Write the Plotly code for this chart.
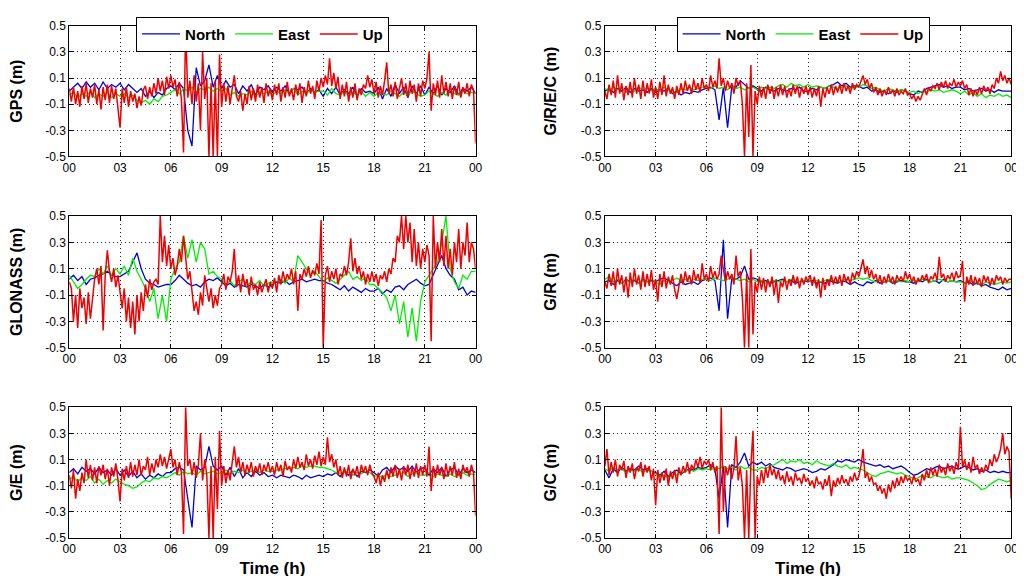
import numpy as np
import plotly.graph_objects as go
from plotly.subplots import make_subplots

# ---------------- data (hours 0..24, metres) ----------------
# North / East sampled every 0.25 h (97 values), Up every 0.125 h (193 values)
x_tick_vals = [0, 3, 6, 9, 12, 15, 18, 21, 24]
x_tick_text = ["00", "03", "06", "09", "12", "15", "18", "21", "00"]
y_tick_vals = [-0.5, -0.3, -0.1, 0.1, 0.3, 0.5]
y_tick_text = ["-0.5", "-0.3", "-0.1", "0.1", "0.3", "0.5"]
components = ["North", "East", "Up"]

# ---- GPS ----
gps_north = [0.00, 0.03, 0.06, 0.02, 0.07, 0.03, 0.06, 0.01, 0.07, 0.02, 0.05, 0.03,
             0.06, 0.01, 0.05, 0.02, -0.01, 0.02, -0.04, 0.00, -0.05, -0.01, -0.03, 0.02,
             0.04, 0.01, 0.06, 0.02, -0.30, -0.42, 0.18, 0.04, 0.08, 0.20, 0.03, 0.12,
             0.02, 0.08, 0.03, 0.05, -0.02, 0.04, 0.00, 0.05, -0.03, 0.03, 0.01, 0.04,
             -0.01, 0.03, 0.00, 0.04, -0.02, 0.02, 0.01, 0.03, -0.02, 0.02, -0.01, 0.01,
             -0.04, 0.02, -0.02, 0.03, -0.03, 0.01, -0.02, 0.03, -0.04, 0.02, -0.01, 0.00,
             -0.02, 0.03, -0.06, 0.02, -0.04, 0.05, -0.02, 0.03, -0.05, 0.04, -0.02, 0.04,
             -0.03, 0.03, -0.02, 0.04, -0.03, 0.02, -0.01, 0.04, -0.03, 0.02, 0.00, 0.03,
             -0.02]
gps_east = [-0.03, -0.01, -0.05, -0.02, -0.04, 0.00, -0.05, -0.02, -0.04, -0.01, -0.05, -0.02,
            -0.04, -0.02, -0.05, -0.03, -0.07, -0.09, -0.07, -0.10, -0.06, -0.08, -0.04, -0.03,
            -0.01, 0.01, -0.02, 0.02, 0.00, 0.03, -0.01, 0.02, 0.01, 0.03, 0.00, 0.02,
            0.00, 0.02, -0.03, -0.01, -0.04, -0.02, -0.03, 0.00, -0.04, -0.01, -0.02, 0.00,
            -0.03, 0.00, -0.02, 0.01, -0.02, 0.02, -0.03, 0.00, -0.02, 0.01, -0.01, 0.00,
            0.00, -0.03, 0.02, -0.02, -0.03, 0.00, -0.04, -0.01, -0.03, 0.00, -0.04, -0.01,
            -0.04, -0.01, -0.02, -0.03, 0.00, -0.02, -0.04, -0.01, -0.03, 0.00, -0.02, -0.04,
            -0.03, 0.00, -0.02, -0.04, -0.01, -0.03, 0.01, -0.02, -0.03, 0.00, -0.02, -0.01,
            -0.02]
gps_up = [0.02, -0.08, 0.03, -0.10, 0.00, -0.12, 0.04, -0.06, 0.06, -0.09, 0.02, -0.05,
          0.05, -0.10, 0.01, -0.14, 0.03, -0.07, 0.05, -0.09, 0.04, -0.06, 0.02, -0.11,
          -0.28, 0.02, -0.09, 0.03, -0.12, 0.00, -0.08, -0.02, -0.13, -0.04, -0.11, 0.01,
          0.04, -0.06, 0.03, -0.04, 0.06, -0.02, 0.10, 0.00, 0.08, -0.03, 0.11, 0.02,
          0.12, 0.03, 0.09, -0.04, 0.07, -0.06, -0.47, 0.50, -0.05, 0.08, -0.10, 0.12,
          -0.08, 0.06, -0.30, 0.30, -0.06, 0.10, -0.50, 0.06, -0.50, 0.08, -0.50, 0.28,
          -0.12, 0.06, -0.08, 0.04, -0.10, 0.02, 0.12, -0.04, -0.08, 0.00, -0.15, -0.02,
          -0.10, 0.04, -0.07, 0.02, -0.08, 0.05, -0.05, 0.03, -0.09, 0.06, -0.04, 0.02,
          -0.07, 0.05, -0.03, 0.06, -0.08, 0.03, -0.05, 0.07, -0.04, 0.02, -0.07, 0.05,
          -0.03, 0.06, -0.09, 0.03, -0.04, 0.08, -0.02, 0.04, -0.06, 0.08, 0.00, 0.10,
          0.03, 0.12, 0.05, 0.25, 0.04, 0.14, 0.02, 0.11, -0.06, 0.05, -0.04, 0.07,
          -0.08, 0.03, -0.05, 0.06, -0.07, 0.02, -0.03, 0.05, 0.02, 0.12, 0.03, 0.09,
          -0.02, 0.07, -0.05, 0.04, -0.03, 0.08, 0.22, -0.02, 0.05, -0.04, 0.07, -0.06,
          0.03, 0.10, -0.03, 0.06, -0.05, 0.08, -0.02, 0.05, -0.08, 0.06, -0.04, 0.08,
          0.02, 0.10, 0.30, -0.15, 0.06, -0.03, 0.08, -0.05, 0.12, -0.02, 0.07, -0.04,
          0.06, -0.06, 0.04, -0.03, 0.07, -0.05, 0.03, -0.02, 0.06, -0.04, 0.05, 0.01,
          -0.40]

# ---- GLONASS ----
glo_north = [0.02, 0.05, 0.01, 0.04, -0.02, 0.02, 0.03, 0.05, 0.06, 0.08, 0.05, 0.04,
             0.04, 0.06, 0.08, 0.15, 0.22, 0.10, 0.02, -0.01, -0.02, -0.04, -0.03, -0.02,
             -0.02, 0.01, 0.05, 0.02, -0.01, -0.03, -0.02, -0.04, 0.00, 0.02, 0.01, 0.03,
             0.00, -0.03, -0.01, -0.04, -0.02, -0.03, -0.04, -0.02, -0.03, -0.05, -0.02, -0.04,
             -0.02, 0.00, -0.01, 0.01, -0.02, 0.00, 0.01, 0.02, 0.00, 0.01, 0.02, 0.01,
             0.01, -0.01, -0.02, -0.04, -0.06, -0.03, -0.07, -0.04, -0.06, -0.08, -0.05, -0.07,
             -0.07, -0.05, -0.09, -0.06, -0.08, -0.04, -0.03, -0.06, -0.02, 0.00, 0.02, -0.01,
             -0.03, -0.02, 0.05, 0.12, 0.20, 0.10, 0.05, 0.02, -0.06, -0.04, -0.10, -0.07,
             -0.08]
glo_east = [0.05, 0.00, -0.05, -0.02, 0.02, 0.05, 0.04, 0.10, 0.06, 0.12, 0.05, 0.10,
            0.06, 0.12, 0.05, 0.18, 0.08, 0.02, -0.05, -0.15, -0.05, -0.28, -0.10, -0.30,
            0.02, 0.10, 0.15, 0.35, 0.18, 0.32, 0.15, 0.30, 0.25, 0.06, 0.08, 0.04,
            0.02, -0.02, 0.01, -0.03, 0.00, 0.02, -0.03, 0.00, -0.02, 0.01, -0.03, -0.01,
            0.00, -0.02, 0.02, -0.01, 0.03, 0.00, 0.20, 0.15, 0.10, 0.05, 0.08, 0.04,
            0.00, 0.03, 0.01, -0.01, 0.02, 0.05, 0.08, 0.02, 0.04, 0.01, 0.03, -0.02,
            -0.02, -0.05, -0.08, -0.12, -0.22, -0.10, -0.32, -0.15, -0.42, -0.20, -0.45, -0.15,
            0.00, 0.05, 0.10, 0.15, 0.30, 0.50, 0.10, 0.00, -0.05, 0.05, 0.02, 0.08,
            0.08]
glo_up = [0.00, -0.05, -0.30, -0.10, -0.35, -0.05, -0.20, -0.12, -0.32, -0.08, -0.28, -0.15,
          0.02, 0.10, -0.02, 0.12, -0.37, 0.05, 0.24, 0.08, 0.00, 0.10, -0.04, 0.05,
          -0.08, -0.20, -0.05, -0.30, -0.12, -0.35, -0.15, -0.40, -0.10, -0.30, -0.08, -0.22,
          -0.02, -0.12, 0.02, -0.06, 0.00, 0.02, -0.02, 0.50, 0.15, 0.35, 0.12, 0.28,
          0.10, 0.18, 0.05, 0.12, 0.25, 0.15, 0.35, 0.18, 0.02, 0.08, -0.10, -0.22,
          -0.15, -0.25, -0.08, -0.18, 0.05, -0.05, -0.15, -0.05, -0.20, -0.10, -0.18, -0.05,
          -0.02, 0.06, -0.06, 0.04, 0.00, 0.08, 0.25, -0.04, 0.05, -0.08, 0.06, -0.03,
          0.02, -0.10, 0.04, -0.06, -0.02, -0.10, 0.00, -0.08, -0.03, 0.02, -0.08, 0.00,
          -0.05, 0.03, -0.08, 0.05, -0.02, 0.08, 0.00, 0.06, 0.02, 0.10, -0.02, 0.08,
          -0.22, 0.06, 0.02, 0.10, 0.04, 0.12, 0.03, 0.09, 0.05, 0.14, 0.06, 0.47,
          -0.50, 0.05, 0.12, 0.00, 0.08, 0.02, 0.10, -0.02, 0.06, 0.04, 0.12, 0.05,
          0.15, 0.33, 0.08, 0.18, 0.06, 0.12, 0.02, 0.08, -0.02, 0.06, 0.00, 0.08,
          0.00, 0.06, -0.03, 0.05, 0.02, 0.08, 0.00, 0.10, 0.06, 0.18, 0.15, 0.35,
          0.30, 0.50, 0.25, 0.50, 0.30, 0.45, 0.15, 0.40, 0.12, 0.30, 0.10, 0.25,
          0.15, 0.28, 0.20, -0.45, 0.50, 0.10, 0.30, 0.15, 0.40, 0.12, 0.35, 0.10,
          0.25, 0.05, 0.30, 0.15, 0.40, 0.10, 0.30, 0.20, 0.45, 0.15, 0.30, 0.25,
          0.10]

# ---- G/E ----
ge_north = [0.00, 0.03, -0.01, 0.04, 0.01, 0.03, -0.01, 0.04, 0.00, 0.02, -0.02, 0.03,
            -0.02, 0.02, -0.03, 0.01, -0.04, -0.01, -0.05, -0.02, -0.04, -0.01, -0.03, 0.00,
            0.00, 0.03, 0.04, 0.02, -0.20, -0.42, 0.05, 0.02, 0.04, 0.20, 0.05, 0.02,
            0.05, -0.02, 0.04, -0.03, 0.03, -0.04, 0.00, -0.03, 0.01, -0.02, 0.00, -0.03,
            -0.02, -0.04, -0.02, -0.03, -0.04, -0.02, -0.03, -0.05, -0.02, -0.04, -0.03, -0.02,
            -0.03, -0.01, -0.02, 0.00, -0.03, 0.01, -0.02, 0.02, -0.03, 0.01, 0.00, 0.02,
            0.00, -0.03, 0.02, 0.04, 0.00, 0.05, 0.02, 0.04, 0.01, 0.05, 0.00, 0.03,
            0.04, -0.02, 0.03, 0.00, 0.04, -0.03, 0.02, 0.04, -0.02, 0.03, 0.00, 0.02,
            0.00]
ge_east = [-0.05, -0.03, -0.07, -0.04, -0.06, -0.03, -0.08, -0.05, -0.09, -0.06, -0.08, -0.05,
           -0.07, -0.09, -0.10, -0.12, -0.11, -0.08, -0.06, -0.07, -0.04, -0.05, -0.03, -0.04,
           -0.02, 0.00, -0.02, 0.01, -0.01, 0.00, -0.02, 0.01, -0.01, 0.00, 0.01, -0.01,
           0.00, 0.02, -0.01, 0.01, 0.00, 0.02, 0.00, 0.01, 0.02, 0.00, 0.02, 0.01,
           0.01, 0.02, 0.02, 0.03, 0.03, 0.04, 0.03, 0.05, 0.04, 0.05, 0.05, 0.04,
           0.04, 0.03, 0.02, 0.00, -0.01, 0.01, 0.00, -0.02, 0.00, -0.01, 0.01, 0.00,
           -0.03, -0.02, -0.04, -0.01, -0.03, -0.02, -0.01, 0.00, -0.03, -0.01, 0.00, -0.02,
           -0.02, 0.00, -0.03, -0.01, -0.02, -0.03, -0.01, -0.03, -0.02, 0.00, -0.02, -0.01,
           -0.02]
ge_up = [-0.02, -0.12, 0.02, -0.20, -0.05, -0.14, 0.00, -0.08, 0.10, -0.04, 0.06, -0.06,
         0.04, -0.08, 0.05, -0.02, 0.06, -0.05, 0.03, -0.10, 0.04, -0.03, 0.07, -0.05,
         -0.22, 0.03, -0.06, 0.05, -0.04, 0.08, -0.03, 0.06, -0.02, 0.10, -0.02, 0.05,
         0.02, 0.12, -0.02, 0.07, 0.00, 0.10, 0.04, 0.14, 0.05, 0.12, 0.03, 0.10,
         0.18, 0.04, 0.10, -0.02, 0.08, 0.00, -0.47, 0.50, 0.05, 0.10, -0.02, 0.08,
         -0.04, 0.06, 0.30, -0.06, 0.10, -0.02, -0.50, 0.05, -0.50, 0.12, -0.28, 0.32,
         -0.10, 0.05, -0.08, 0.02, -0.06, 0.08, 0.20, 0.04, 0.12, 0.00, 0.08, -0.02,
         0.06, 0.00, 0.08, -0.03, 0.05, 0.00, 0.07, -0.02, 0.06, 0.01, 0.08, 0.00,
         0.05, -0.02, 0.08, 0.01, 0.06, -0.03, 0.09, 0.02, 0.05, 0.00, 0.10, 0.03,
         0.12, 0.04, 0.08, 0.02, 0.14, 0.05, 0.10, 0.03, 0.13, 0.06, 0.16, 0.05,
         0.12, 0.06, 0.27, 0.08, 0.14, 0.04, 0.10, -0.02, 0.05, -0.04, 0.04, -0.03,
         0.06, -0.05, 0.03, -0.02, 0.05, -0.04, 0.06, 0.00, 0.05, -0.02, 0.06, 0.00,
         -0.03, -0.08, 0.00, -0.10, -0.02, -0.07, 0.02, -0.05, 0.04, -0.03, 0.06, -0.04,
         0.03, -0.06, 0.05, -0.02, 0.06, -0.05, 0.04, -0.03, 0.07, -0.04, 0.05, -0.02,
         0.06, -0.03, 0.20, -0.14, 0.05, -0.04, 0.06, -0.02, 0.04, -0.05, 0.07, -0.03,
         0.05, -0.02, 0.08, -0.04, 0.03, -0.05, 0.06, 0.00, 0.04, -0.03, 0.06, 0.00,
         -0.33]

# ---- G/R/E/C ----
grec_north = [0.00, 0.02, -0.01, 0.02, 0.00, 0.03, -0.01, 0.02, 0.00, 0.01, -0.01, 0.02,
              -0.01, 0.01, 0.00, 0.02, -0.02, 0.00, -0.03, -0.01, -0.02, 0.00, -0.01, 0.01,
              0.02, 0.03, 0.01, -0.22, 0.03, -0.28, 0.04, 0.03, 0.08, 0.05, 0.02, 0.04,
              0.02, 0.00, 0.03, 0.01, 0.00, 0.02, 0.01, 0.00, 0.02, 0.01, 0.03, 0.00,
              0.00, 0.02, 0.01, 0.03, 0.02, 0.04, 0.05, 0.07, 0.04, 0.06, 0.03, 0.04,
              0.04, 0.02, 0.03, 0.00, 0.01, -0.01, 0.00, -0.02, 0.00, -0.01, 0.01, 0.00,
              -0.02, -0.03, 0.00, -0.01, 0.02, 0.03, 0.04, 0.05, 0.03, 0.04, 0.02, 0.03,
              0.03, 0.01, 0.02, 0.00, 0.01, 0.02, 0.00, 0.01, -0.01, 0.01, 0.00, 0.00,
              0.00]
grec_east = [0.02, 0.00, 0.03, 0.01, 0.02, -0.01, 0.02, 0.00, 0.03, 0.01, 0.02, 0.00,
             0.02, 0.00, 0.03, 0.01, 0.00, -0.01, 0.02, 0.01, 0.03, 0.01, 0.02, 0.03,
             0.03, 0.02, 0.04, 0.02, 0.03, 0.01, 0.04, 0.02, 0.03, 0.01, 0.02, 0.03,
             0.01, 0.03, 0.02, 0.03, 0.02, 0.04, 0.05, 0.03, 0.06, 0.04, 0.05, 0.03,
             0.05, 0.03, 0.04, 0.03, 0.02, 0.04, 0.03, 0.02, 0.03, 0.04, 0.02, 0.03,
             0.03, 0.05, 0.04, 0.02, 0.03, 0.01, 0.00, 0.02, 0.01, 0.00, 0.01, 0.00,
             -0.01, 0.00, -0.02, 0.00, -0.01, 0.01, 0.00, 0.01, -0.01, 0.00, 0.01, 0.00,
             -0.02, 0.00, -0.03, -0.01, -0.04, -0.02, -0.05, -0.03, -0.04, -0.02, -0.04, -0.03,
             -0.05]
grec_up = [0.00, -0.06, 0.05, -0.03, 0.08, -0.05, 0.12, -0.02, 0.06, -0.07, 0.04, -0.03,
           0.07, -0.05, 0.10, -0.02, 0.05, -0.06, 0.08, -0.04, 0.06, -0.02, 0.09, -0.05,
           0.03, -0.06, 0.07, -0.03, 0.12, -0.04, 0.05, -0.02, 0.03, -0.06, 0.04, -0.03,
           0.06, -0.02, 0.08, 0.00, 0.05, -0.02, 0.09, 0.01, 0.06, -0.01, 0.10, 0.02,
           0.05, 0.00, 0.12, 0.03, 0.08, 0.02, 0.25, 0.04, 0.10, 0.00, 0.08, 0.02,
           0.06, -0.02, 0.10, 0.04, 0.08, -0.10, -0.50, 0.06, -0.35, 0.20, -0.50, 0.00,
           -0.10, 0.04, -0.05, 0.03, -0.06, 0.05, -0.02, 0.04, -0.06, 0.03, -0.04, 0.05,
           -0.03, 0.04, -0.05, 0.02, -0.04, 0.05, -0.02, 0.04, -0.05, 0.03, -0.02, 0.04,
           -0.03, 0.03, -0.05, 0.02, -0.04, 0.04, -0.12, 0.02, -0.05, 0.03, -0.02, 0.05,
           -0.03, 0.04, -0.01, 0.05, -0.02, 0.06, 0.00, 0.04, -0.02, 0.06, 0.01, 0.05,
           0.03, 0.08, 0.12, 0.05, 0.09, 0.02, 0.06, -0.01, 0.03, -0.03, 0.02, -0.04,
           0.01, -0.03, 0.03, -0.02, 0.01, -0.04, 0.02, -0.03, 0.00, -0.02, 0.02, -0.03,
           -0.02, -0.06, -0.03, -0.08, -0.04, -0.07, -0.02, 0.02, -0.03, 0.03, 0.00, 0.04,
           0.02, 0.06, 0.01, 0.07, 0.03, 0.08, 0.02, 0.06, 0.04, 0.09, 0.03, 0.07,
           0.04, 0.08, 0.02, 0.05, -0.03, 0.02, -0.04, 0.01, -0.03, 0.03, -0.02, 0.04,
           0.00, 0.03, -0.02, 0.05, 0.02, 0.10, 0.06, 0.15, 0.08, 0.12, 0.06, 0.10,
           0.05]

# ---- G/R ----
gr_north = [0.00, 0.01, -0.02, 0.01, -0.01, 0.02, 0.00, 0.01, -0.01, 0.02, 0.00, 0.01,
            0.00, 0.02, 0.03, 0.01, -0.01, -0.03, 0.00, -0.02, -0.01, 0.00, -0.02, 0.01,
            0.02, 0.03, 0.01, -0.22, 0.32, -0.28, 0.03, 0.02, 0.04, 0.12, 0.02, 0.03,
            0.02, 0.00, 0.01, -0.01, 0.00, 0.01, 0.02, 0.00, 0.01, -0.01, 0.00, 0.01,
            0.00, 0.01, -0.01, 0.00, -0.01, 0.01, 0.00, -0.01, 0.01, 0.00, -0.02, 0.00,
            -0.02, -0.03, 0.00, -0.01, 0.01, -0.01, 0.00, 0.01, -0.01, 0.00, 0.01, 0.00,
            0.00, -0.01, 0.01, 0.00, 0.02, 0.00, 0.01, -0.01, 0.02, 0.00, 0.01, 0.00,
            0.01, -0.01, 0.00, -0.02, -0.01, -0.03, -0.02, -0.04, -0.05, -0.06, -0.04, -0.06,
            -0.05]
gr_east = [0.02, 0.04, 0.00, 0.02, -0.01, 0.01, 0.00, 0.02, -0.01, 0.01, 0.00, 0.02,
           0.00, -0.02, 0.01, 0.00, 0.01, 0.03, 0.01, 0.02, 0.00, 0.02, 0.01, 0.02,
           0.02, 0.01, 0.03, 0.02, 0.01, 0.02, 0.03, 0.02, 0.01, 0.02, 0.00, 0.02,
           0.00, 0.01, -0.01, 0.00, 0.01, 0.00, 0.01, 0.00, 0.02, 0.01, 0.00, 0.01,
           0.01, 0.00, 0.01, 0.00, 0.01, 0.02, 0.01, 0.00, 0.01, 0.02, 0.01, 0.02,
           0.03, 0.02, 0.03, 0.01, 0.00, 0.01, 0.00, 0.01, 0.00, 0.01, 0.00, 0.01,
           0.00, 0.01, 0.00, 0.02, 0.01, 0.00, 0.01, 0.02, 0.01, 0.00, 0.01, 0.00,
           0.00, -0.01, 0.01, 0.00, -0.01, -0.02, 0.00, -0.01, -0.02, -0.01, 0.00, -0.01,
           0.00]
gr_up = [0.00, -0.05, 0.06, -0.03, 0.08, -0.06, 0.10, -0.02, 0.05, -0.08, 0.04, -0.12,
         0.07, -0.04, 0.10, -0.02, 0.05, -0.06, 0.08, -0.04, 0.06, -0.03, 0.09, -0.06,
         0.02, -0.15, 0.06, -0.04, 0.08, -0.05, 0.04, -0.02, 0.05, -0.06, -0.13, -0.03,
         0.06, -0.02, 0.08, 0.00, 0.05, -0.02, 0.09, 0.01, 0.06, -0.01, 0.14, 0.02,
         0.06, 0.00, 0.12, 0.03, 0.08, 0.02, 0.06, 0.20, 0.10, 0.00, 0.08, 0.02,
         0.06, -0.02, 0.20, 0.04, 0.08, -0.12, -0.50, 0.06, -0.50, 0.25, -0.40, 0.00,
         -0.08, 0.04, -0.06, 0.03, -0.08, 0.02, -0.04, 0.04, -0.10, 0.02, -0.16, 0.00,
         -0.04, 0.04, -0.06, 0.02, -0.03, 0.05, -0.02, 0.04, -0.05, 0.03, -0.02, 0.04,
         0.00, 0.05, -0.03, 0.04, -0.05, 0.02, -0.12, 0.03, -0.06, 0.02, -0.03, 0.05,
         -0.02, 0.04, -0.01, 0.05, -0.03, 0.06, 0.00, 0.04, -0.02, 0.07, 0.02, 0.08,
         0.04, 0.10, 0.17, 0.06, 0.12, 0.03, 0.09, 0.02, 0.06, -0.01, 0.05, -0.02,
         0.04, -0.01, 0.06, 0.00, 0.04, -0.02, 0.05, 0.01, 0.04, 0.00, 0.08, 0.02,
         0.06, 0.00, 0.04, -0.02, 0.03, 0.00, 0.05, 0.01, 0.06, -0.01, 0.04, 0.02,
         0.07, 0.01, 0.19, 0.03, 0.06, 0.00, 0.05, 0.02, 0.07, 0.01, 0.08, 0.03,
         0.05, 0.16, -0.15, 0.04, -0.02, 0.05, -0.03, 0.04, -0.02, 0.03, -0.04, 0.05,
         0.00, 0.04, -0.03, 0.03, -0.02, 0.05, 0.01, 0.04, -0.02, 0.03, 0.00, 0.02,
         0.02]

# ---- G/C ----
gc_north = [0.02, -0.04, 0.03, 0.00, 0.04, 0.01, 0.03, 0.02, 0.05, 0.02, 0.03, 0.01,
            0.00, -0.02, 0.01, -0.03, 0.00, 0.02, -0.01, 0.01, 0.03, 0.02, 0.04, 0.03,
            0.04, 0.06, 0.03, -0.20, 0.05, -0.42, 0.06, 0.04, 0.08, 0.15, 0.05, 0.08,
            0.06, 0.08, 0.05, 0.07, 0.04, 0.03, 0.02, 0.04, 0.03, 0.01, 0.02, 0.03,
            0.02, 0.00, 0.01, 0.03, 0.02, 0.04, 0.06, 0.09, 0.08, 0.10, 0.09, 0.08,
            0.10, 0.08, 0.07, 0.06, 0.05, 0.06, 0.04, 0.05, 0.03, 0.04, 0.05, 0.03,
            0.00, -0.02, -0.01, 0.01, 0.03, 0.02, 0.04, 0.05, 0.03, 0.04, 0.05, 0.03,
            0.03, 0.05, 0.04, 0.02, 0.03, 0.01, 0.02, 0.00, 0.01, 0.00, 0.01, 0.00,
            0.00]
gc_east = [0.03, 0.01, 0.04, 0.02, 0.03, 0.00, 0.02, 0.01, 0.03, 0.00, 0.02, 0.01,
           -0.01, -0.03, -0.02, -0.04, -0.01, -0.02, 0.00, 0.01, 0.02, 0.01, 0.03, 0.02,
           0.03, 0.02, 0.04, 0.03, 0.05, 0.03, 0.04, 0.02, 0.05, 0.03, 0.04, 0.02,
           0.02, 0.04, 0.03, 0.05, 0.06, 0.08, 0.10, 0.07, 0.09, 0.08, 0.10, 0.07,
           0.08, 0.06, 0.09, 0.07, 0.06, 0.05, 0.07, 0.05, 0.04, 0.06, 0.03, 0.04,
           0.03, 0.02, 0.00, -0.02, -0.03, -0.01, 0.00, 0.01, 0.00, -0.01, 0.00, -0.02,
           -0.03, -0.05, -0.04, -0.02, -0.03, -0.04, -0.02, -0.03, -0.04, -0.03, -0.05, -0.04,
           -0.04, -0.05, -0.06, -0.08, -0.10, -0.13, -0.12, -0.09, -0.07, -0.05, -0.06, -0.07,
           -0.06]
gc_up = [0.05, 0.18, -0.02, 0.08, 0.00, 0.10, -0.03, 0.06, 0.02, 0.09, -0.04, 0.05,
         0.00, 0.07, -0.05, 0.04, 0.01, 0.08, -0.03, 0.06, 0.00, 0.05, -0.06, 0.03,
         -0.25, 0.02, -0.08, 0.00, -0.06, 0.03, -0.10, 0.01, -0.05, 0.02, -0.08, 0.04,
         -0.02, 0.05, 0.00, 0.08, -0.01, 0.06, 0.02, 0.10, 0.04, 0.12, 0.03, 0.09,
         0.06, 0.10, 0.02, 0.08, 0.00, 0.05, -0.47, 0.50, -0.30, 0.05, -0.02, 0.06,
         -0.05, 0.03, 0.28, -0.06, 0.04, -0.10, -0.50, 0.02, -0.50, 0.05, 0.32, -0.50,
         -0.03, -0.10, 0.02, -0.08, 0.04, -0.04, 0.06, -0.02, 0.03, -0.05, 0.02, -0.06,
         -0.02, -0.09, 0.01, -0.07, -0.03, -0.10, 0.00, -0.06, -0.04, -0.09, -0.01, -0.07,
         -0.04, -0.10, -0.06, -0.12, -0.03, -0.09, -0.07, -0.13, -0.05, -0.10, -0.02, -0.18,
         -0.06, -0.11, -0.04, -0.09, -0.02, -0.08, -0.05, -0.10, -0.03, -0.07, 0.00, -0.06,
         -0.03, 0.05, 0.18, -0.04, 0.00, -0.07, -0.03, -0.09, -0.08, -0.14, -0.10, -0.16,
         -0.12, -0.20, -0.09, -0.15, -0.06, -0.12, -0.04, -0.10, -0.03, -0.08, -0.02, -0.06,
         -0.04, -0.09, -0.02, -0.07, -0.05, -0.10, -0.01, -0.06, 0.02, -0.04, 0.04, -0.02,
         0.03, -0.03, 0.06, 0.00, 0.04, -0.02, 0.07, 0.01, 0.05, -0.01, 0.08, 0.02,
         0.35, 0.04, 0.10, 0.02, 0.08, 0.00, 0.12, 0.03, 0.06, -0.01, 0.04, 0.00,
         0.06, 0.02, 0.10, 0.05, 0.14, 0.08, 0.12, 0.18, 0.30, 0.14, 0.20, 0.16,
         -0.20]

panels = [
    # (row, col, y title, north, east, up, legend)
    (1, 1, "GPS (m)", gps_north, gps_east, gps_up, "legend"),
    (1, 2, "G/R/E/C (m)", grec_north, grec_east, grec_up, "legend2"),
    (2, 1, "GLONASS (m)", glo_north, glo_east, glo_up, None),
    (2, 2, "G/R (m)", gr_north, gr_east, gr_up, None),
    (3, 1, "G/E (m)", ge_north, ge_east, ge_up, None),
    (3, 2, "G/C (m)", gc_north, gc_east, gc_up, None),
]

colors = {"North": "#0000D8", "East": "#00EE00", "Up": "#F00000"}
widths = {"North": 1.3, "East": 1.3, "Up": 1.5}
FONT = "Liberation Sans, Arial, Helvetica, sans-serif"

fig = make_subplots(rows=3, cols=2)

for (r, c, ttl, n, e, u, leg) in panels:
    for name, vals in (("North", n), ("East", e), ("Up", u)):
        t = np.linspace(0, 24, len(vals))
        kw = dict(showlegend=False)
        if leg is not None:
            kw = dict(showlegend=True, legend=leg)
        fig.add_trace(go.Scatter(x=t, y=vals, mode="lines", name=name,
                                 line=dict(color=colors[name], width=widths[name]), **kw),
                      row=r, col=c)

x_dom = {1: [55 / 1024, 467 / 1024], 2: [598 / 1024, 1010 / 1024]}
y_dom = {1: [1 - 145 / 576, 1 - 11 / 576], 2: [1 - 341 / 576, 1 - 206 / 576],
         3: [1 - 536 / 576, 1 - 402 / 576]}

axis_common = dict(showline=True, linecolor="black", linewidth=1, mirror="ticks",
                   ticks="inside", ticklen=4, tickcolor="black",
                   showgrid=True, gridcolor="#222222", griddash="1px,3px", gridwidth=1,
                   zeroline=False, tickfont=dict(family=FONT, size=12, color="black"))

for (r, c, ttl, n, e, u, leg) in panels:
    fig.update_xaxes(domain=x_dom[c], range=[0, 24], tickmode="array",
                     tickvals=x_tick_vals, ticktext=x_tick_text,
                     title=dict(text="Time (h)" if r == 3 else "", standoff=6,
                                font=dict(family=FONT, size=17, color="black", weight="bold")),
                     row=r, col=c, **axis_common)
    fig.update_yaxes(domain=y_dom[r], range=[-0.5, 0.5], tickmode="array",
                     tickvals=y_tick_vals, ticktext=y_tick_text,
                     title=dict(text=ttl, standoff=20,
                                font=dict(family=FONT, size=16, color="black", weight="bold")),
                     row=r, col=c, **axis_common)

legend_common = dict(orientation="h", xanchor="center", yanchor="top",
                     y=0.997, bgcolor="white", bordercolor="black", borderwidth=1,
                     font=dict(family=FONT, size=15, color="black", weight="bold"),
                     itemwidth=38, traceorder="normal")

fig.update_layout(
    width=1024, height=576,
    margin=dict(l=0, r=0, t=0, b=0),
    paper_bgcolor="white", plot_bgcolor="white",
    font=dict(family=FONT, color="black"),
    legend=dict(x=251 / 1024, **legend_common),
    legend2=dict(x=799 / 1024, **legend_common),
)

fig.write_html("out.html")
